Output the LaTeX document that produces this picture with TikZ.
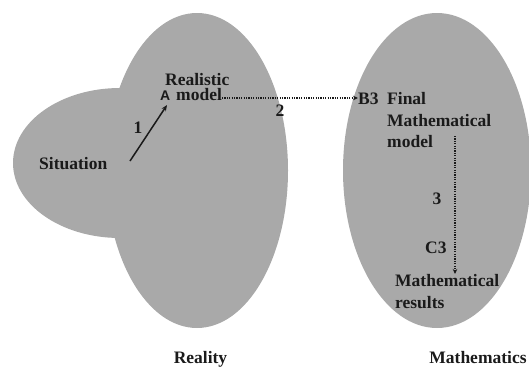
\documentclass[tikz,border=0pt]{standalone}
\usepackage{fontspec}
\setmainfont{Liberation Serif}
\newfontfamily\labelsans{Liberation Sans}
\usetikzlibrary{arrows.meta}
\definecolor{blobgray}{HTML}{A9A9A9}
\definecolor{inkdark}{HTML}{1A1A1A}
\begin{document}
\begin{tikzpicture}[x=1pt,y=-1pt,
  txt/.style={inner sep=0pt,anchor=base west,text=inkdark,
    font=\bfseries\fontsize{17.5}{21.5}\selectfont},
  ctxt/.style={txt,anchor=base},
  blob/.style={fill=blobgray,draw=none},
  solidarrow/.style={draw=inkdark,line width=1.5pt,-{Stealth[length=6pt,width=5pt]}},
  dotarrow/.style={draw=inkdark,line width=1.8pt,dash pattern=on 1.2pt off 1.2pt,
    -{Stealth[length=5pt,width=4.5pt]}}]
\useasboundingbox (0,0) rectangle (529,367);

% regions
\fill[blob] (120,163) ellipse [x radius=107, y radius=75];
\fill[blob] (197,170.5) ellipse [x radius=91, y radius=157.5];
\fill[blob] (437,170.5) ellipse [x radius=94, y radius=157.5];

% reality side
\node[txt] (situation) at (39,169) {Situation};
\node[txt] (realistic) at (165,85) {Realistic};
\node[txt,font=\labelsans\bfseries\fontsize{14}{16}\selectfont] (A) at (160,100.5) {A};
\node[txt] (model) at (176,100.5) {model};
\node[ctxt] (one) at (138,133) {1};
\node[ctxt] (two) at (280,116) {2};
\coordinate (sitend) at (130,161);
\coordinate (modin) at (167,105);

% mathematics side
\node[txt] (B3) at (358,104) {B3};
\node[txt,align=left,anchor=north west] (final) at (387,92.4)
  {Final\\Mathematical\\model};
\node[ctxt] (three) at (437,204) {3};
\node[txt] (C3) at (425,253) {C3};
\node[txt,align=left,anchor=north west] (results) at (395,274.4)
  {Mathematical\\results};
\coordinate (modstart) at (222,98);
\coordinate (vtop) at (455,136);
\coordinate (vbot) at (455,274);

% captions
\node[ctxt] (reality) at (200.5,363) {Reality};
\node[ctxt] (maths) at (478,363) {Mathematics};

% connectors
\draw[solidarrow] (sitend) -- (modin);
\draw[dotarrow] (modstart) -- (B3.west |- modstart);
\draw[dotarrow] (vtop) -- (vbot);
\end{tikzpicture}
\end{document}
